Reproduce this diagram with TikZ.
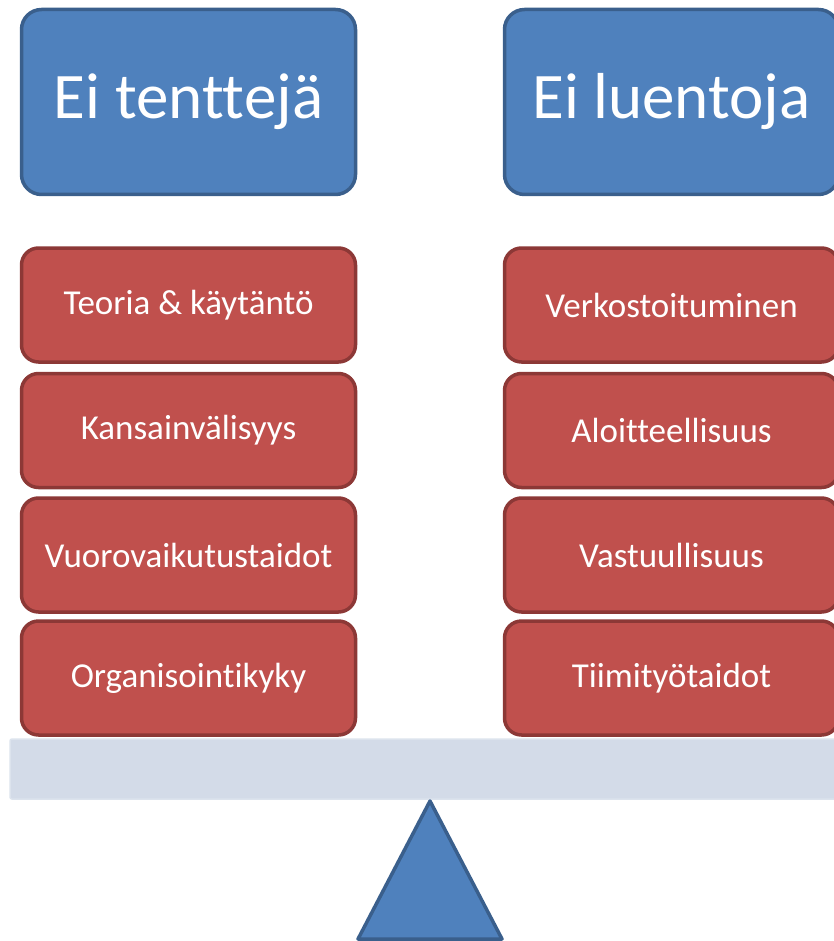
\documentclass[tikz,border=0pt]{standalone}
\usepackage{fontspec}
\setmainfont[RawFeature={-liga;-clig}]{Carlito}
\definecolor{bluefill}{HTML}{4F81BD}
\definecolor{blueline}{HTML}{3A5F8C}
\definecolor{redfill}{HTML}{C0504D}
\definecolor{redline}{HTML}{8C3836}
\definecolor{barfill}{HTML}{D3DBE8}
\definecolor{barline}{HTML}{DCE3ED}
\begin{document}
\begin{tikzpicture}[x=1pt,y=-1pt,
  headbox/.style={draw=blueline, fill=bluefill, line width=3.5pt, rounded corners=20pt,
    minimum width=334pt, minimum height=185pt, inner sep=0pt, text=white,
    font=\fontsize{65}{70}\selectfont},
  itembox/.style={draw=redline, fill=redfill, line width=3.5pt, rounded corners=17pt,
    minimum width=334pt, minimum height=114pt, inner sep=0pt, text=white,
    font=\fontsize{35}{40}\selectfont}]
\useasboundingbox (0,0) rectangle (834,941);
\node[headbox] (h1) at (188.5,102) {Ei tenttejä};
\node[headbox] (h2) at (671.5,102) {Ei luentoja};
\node[itembox] (l1) at (188.5,305) {Teoria \& käytäntö};
\node[itembox] (l2) at (188.5,430.5) {Kansainvälisyys};
\node[itembox] (l3) at (188.5,555) {Vuorovaikutustaidot};
\node[itembox] (l4) at (188.5,678) {Organisointikyky};
\node[itembox] (r1) at (671.5,305) {Verkostoituminen};
\node[itembox] (r2) at (671.5,430.5) {Aloitteellisuus};
\node[itembox] (r3) at (671.5,555) {Vastuullisuus};
\node[itembox] (r4) at (671.5,678) {Tiimityötaidot};
\draw[fill=barfill, draw=barline, line width=1.5pt, rounded corners=2pt] (10,739) rectangle (850,799);
\draw[fill=bluefill, draw=blueline, line width=3.5pt, line join=round] (430,801) -- (502,939) -- (358,939) -- cycle;
\end{tikzpicture}
\end{document}
